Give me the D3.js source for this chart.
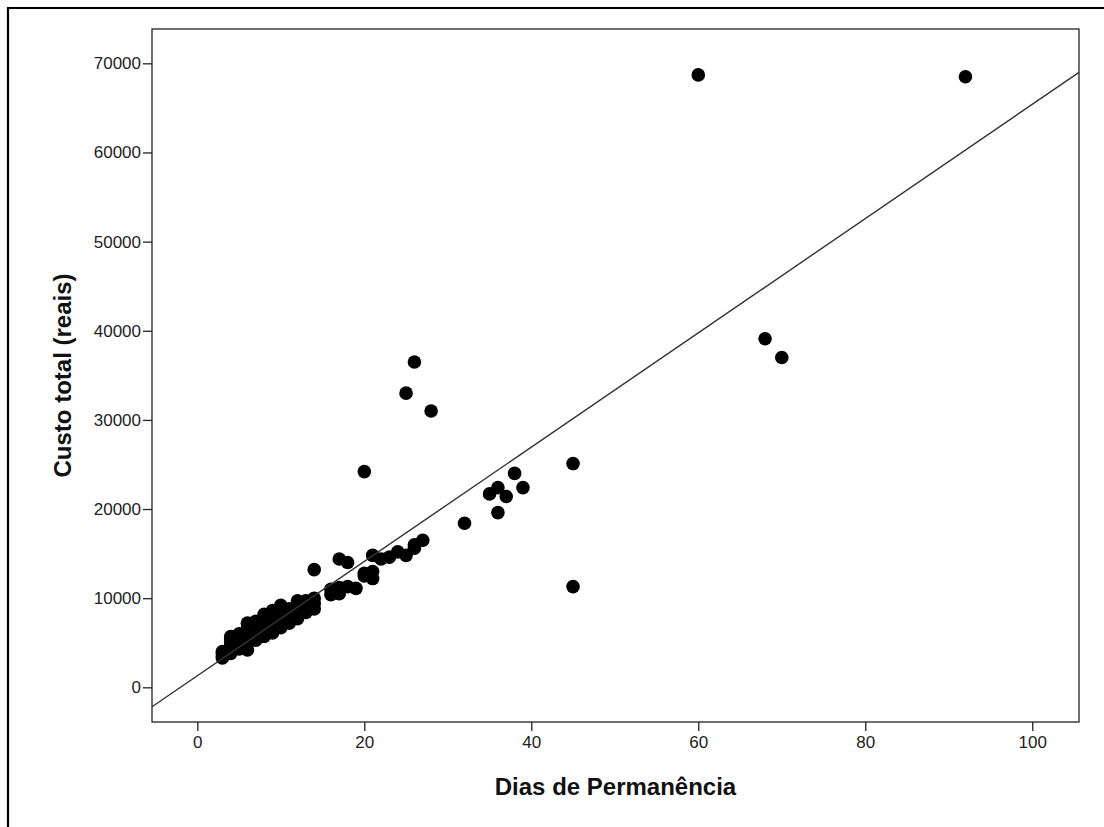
<!DOCTYPE html>
<html>
<head>
<meta charset="utf-8">
<script src="https://cdn.jsdelivr.net/npm/d3@7"></script>
<style>
  body { margin: 0; background: #fff; }
  .axis text { font-family: "Liberation Sans", Arial, sans-serif; font-size: 17px; fill: #222; }
  .axis path, .axis line { stroke: #222; stroke-width: 1.3; }
  .titulo { font-family: "Liberation Sans", Arial, sans-serif; font-size: 24px; font-weight: bold; fill: #111; }
</style>
</head>
<body>
<script>
// dados (dias de internacao x custo em reais)
var dias = [
  3, 3, 3, 3,
  4, 4, 4, 4, 4, 4,
  5, 5, 5, 5, 5,
  6, 6, 6, 6, 6, 6,
  7, 7, 7, 7, 7,
  8, 8, 8, 8, 8, 8,
  9, 9, 9, 9, 9, 9,
  10, 10, 10, 10, 10, 10,
  11, 11, 11, 11,
  12, 12, 12, 12,
  13, 13, 13,
  14, 14, 14, 14,
  16, 16, 17, 17, 17, 18, 18, 19,
  20, 20, 20, 21, 21, 21, 22, 23, 24, 25, 25, 26, 26, 26, 27, 28,
  32, 35, 36, 36, 37, 38, 39, 45, 45,
  60, 68, 70, 92
];
var custo = [
  3300, 3500, 3800, 4000,
  3800, 4200, 4600, 5000, 5400, 5700,
  4300, 4800, 5200, 5600, 6000,
  4200, 5000, 5600, 6100, 6600, 7200,
  5300, 5900, 6400, 6900, 7400,
  5700, 6200, 6700, 7200, 7700, 8200,
  6100, 6600, 7100, 7600, 8100, 8600,
  6700, 7200, 7700, 8200, 8700, 9200,
  7200, 7700, 8300, 8800,
  7700, 8300, 9000, 9700,
  8400, 9300, 9700,
  8800, 9400, 10000, 13200,
  10400, 11000, 10500, 11200, 14400, 11300, 14000, 11100,
  12500, 12800, 24200, 12200, 13000, 14800, 14400, 14600, 15200, 14800, 33000, 15600, 16000, 36500, 16500, 31000,
  18400, 21700, 22400, 19600, 21400, 24000, 22400, 25100, 11300,
  68700, 39100, 37000, 68500
];
var xTicks = [0, 20, 40, 60, 80, 100];
var yTicks = [0, 10000, 20000, 30000, 40000, 50000, 60000, 70000];
// reta de ajuste (estimada da figura)
var intercepto = 1300, inclinacao = 641;

var W = 1104, H = 827;
var plot = {left: 152, top: 29, right: 1079, bottom: 722};

var svg = d3.select("body").append("svg")
  .attr("width", W).attr("height", H);

svg.append("rect").attr("width", W).attr("height", H).attr("fill", "#fff");

// moldura externa
svg.append("path")
  .attr("d", "M8," + H + "V8H" + W)
  .attr("fill", "none").attr("stroke", "#000").attr("stroke-width", 2.2);

var xScale = d3.scaleLinear().domain([-5.43, 105.6]).range([plot.left, plot.right]);
var yScale = d3.scaleLinear().domain([-3890, 73850]).range([plot.bottom, plot.top]);

svg.append("defs").append("clipPath").attr("id", "clip")
  .append("rect").attr("x", plot.left).attr("y", plot.top)
  .attr("width", plot.right - plot.left).attr("height", plot.bottom - plot.top);

var pontos = dias.map(function(d, i){ return {dias: d, custo: custo[i]}; });

svg.append("g").attr("clip-path", "url(#clip)")
  .selectAll("circle").data(pontos).enter().append("circle")
  .attr("cx", function(d){ return xScale(d.dias); })
  .attr("cy", function(d){ return yScale(d.custo); })
  .attr("r", 6.8)
  .attr("fill", "#000");

// reta
var xd = xScale.domain();
svg.append("path")
  .datum(xd)
  .attr("clip-path", "url(#clip)")
  .attr("d", d3.line()
    .x(function(d){ return xScale(d); })
    .y(function(d){ return yScale(intercepto + inclinacao * d); }))
  .attr("fill", "none").attr("stroke", "#333").attr("stroke-width", 1.4);

// caixa do grafico
svg.append("rect")
  .attr("x", plot.left).attr("y", plot.top)
  .attr("width", plot.right - plot.left).attr("height", plot.bottom - plot.top)
  .attr("fill", "none").attr("stroke", "#222").attr("stroke-width", 1.3);

var xAxis = d3.axisBottom(xScale).tickValues(xTicks).tickSize(9).tickPadding(5).tickSizeOuter(0);
var yAxis = d3.axisLeft(yScale).tickValues(yTicks).tickSize(9).tickPadding(2).tickSizeOuter(0)
  .tickFormat(d3.format("d"));

svg.append("g").attr("class", "x axis")
  .attr("transform", "translate(0," + plot.bottom + ")")
  .call(xAxis)
  .call(function(g){ g.select(".domain").remove(); });

svg.append("g").attr("class", "y axis")
  .attr("transform", "translate(" + plot.left + ",0)")
  .call(yAxis)
  .call(function(g){ g.select(".domain").remove(); });

svg.append("text").attr("class", "titulo")
  .attr("x", (plot.left + plot.right) / 2).attr("y", 795)
  .attr("text-anchor", "middle")
  .text("Dias de Permanência");

svg.append("text").attr("class", "titulo")
  .attr("transform", "translate(71," + ((plot.top + plot.bottom) / 2) + ") rotate(-90)")
  .attr("text-anchor", "middle")
  .text("Custo total (reais)");
</script>
</body>
</html>
